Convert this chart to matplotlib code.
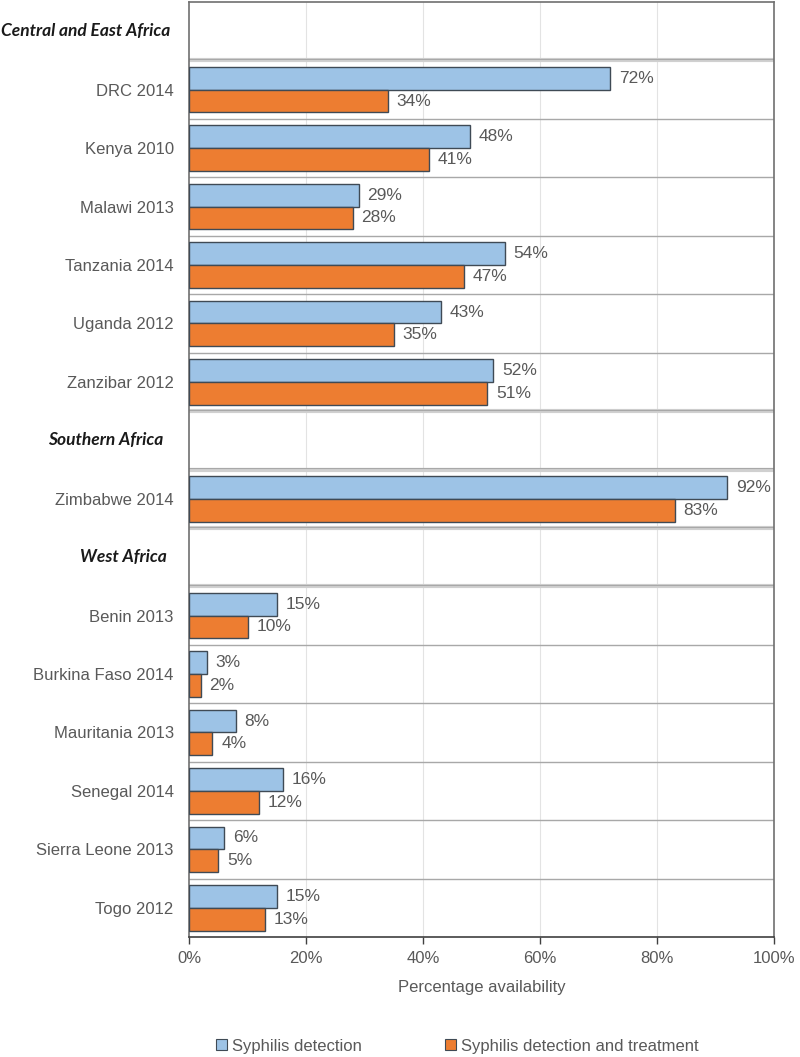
import matplotlib
matplotlib.use("Agg")
import matplotlib.pyplot as plt
from matplotlib.patches import Patch
from matplotlib.transforms import blended_transform_factory

# ---- data ----
rows = ["Central and East Africa", "DRC 2014", "Kenya 2010", "Malawi 2013", "Tanzania 2014",
        "Uganda 2012", "Zanzibar 2012", "Southern Africa", "Zimbabwe 2014", "West Africa",
        "Benin 2013", "Burkina Faso 2014", "Mauritania 2013", "Senegal 2014",
        "Sierra Leone 2013", "Togo 2012"]
headings = ["Central and East Africa", "Southern Africa", "West Africa"]
countries = ["DRC 2014", "Kenya 2010", "Malawi 2013", "Tanzania 2014", "Uganda 2012",
             "Zanzibar 2012", "Zimbabwe 2014", "Benin 2013", "Burkina Faso 2014",
             "Mauritania 2013", "Senegal 2014", "Sierra Leone 2013", "Togo 2012"]
detection = [72, 48, 29, 54, 43, 52, 92, 15, 3, 8, 16, 6, 15]
detection_treatment = [34, 41, 28, 47, 35, 51, 83, 10, 2, 4, 12, 5, 13]
xticks = [0, 20, 40, 60, 80, 100]
series_names = ["Syphilis detection", "Syphilis detection and treatment"]

BLUE = "#9DC3E6"
ORANGE = "#ED7D31"
EDGE = "#3F4A55"
TXT = "#595959"

plt.rcParams['font.family'] = ['Liberation Sans', 'DejaVu Sans']

fig = plt.figure(figsize=(8, 10.57), dpi=100)
ax = fig.add_axes([189/800, 1-937/1057, (774-189)/800, (937-2)/1057])

ypos = {name: i for i, name in enumerate(rows)}
h = 0.39
for c, d, t in zip(countries, detection, detection_treatment):
    y = ypos[c]
    ax.barh(y - h/2, d, height=h, color=BLUE, edgecolor=EDGE, linewidth=1.0, zorder=3)
    ax.barh(y + h/2, t, height=h, color=ORANGE, edgecolor=EDGE, linewidth=1.0, zorder=3)
    ax.text(d + 1.5, y - h/2, f"{d}%", va="center", ha="left", fontsize=12.5, color=TXT)
    ax.text(t + 1.5, y + h/2, f"{t}%", va="center", ha="left", fontsize=12.5, color=TXT)

ax.set_ylim(len(rows) - 0.5, -0.5)
ax.set_xlim(0, 100)
ax.set_yticks([ypos[c] for c in countries])
ax.set_yticklabels(countries, fontsize=12, color=TXT)
ax.tick_params(axis="y", length=0, pad=11)
ax.set_xticks(xticks)
ax.set_xticklabels([f"{v}%" for v in xticks], fontsize=12, color=TXT)
ax.tick_params(axis="x", length=5, width=1, color="#404040", pad=5, direction="out")
ax.set_xlabel("Percentage availability", fontsize=12, color=TXT, labelpad=10)

# grid
for v in xticks[1:-1]:
    ax.axvline(v, color="#E3E3E3", linewidth=0.8, zorder=0)

# separators
head_idx = [ypos[hd] for hd in headings]
for i in range(len(rows) - 1):
    b = i + 0.5
    thick = (i in head_idx) or (i + 1 in head_idx)
    if thick:
        ax.axhline(b, color="#D0D0D0", linewidth=3.0, zorder=1)
        ax.axhline(b - 0.02, color="#A8A8A8", linewidth=0.8, zorder=1)
    else:
        ax.axhline(b, color="#A8A8A8", linewidth=1.0, zorder=1)

for s in ax.spines.values():
    s.set_color("#707070")
    s.set_linewidth(1.2)
ax.spines["bottom"].set_color("#404040")

# headings
trans = blended_transform_factory(fig.transFigure, ax.transData)
for hd, xr in zip(headings, [170/800, 163/800, 167/800]):
    ax.text(xr, ypos[hd], hd, transform=trans, ha="right", va="center",
            fontsize=12.5, fontweight="bold", fontstyle="italic",
            family=["Lato", "DejaVu Sans"], color="#1A1A1A")

handles = [Patch(facecolor=BLUE, edgecolor=EDGE, linewidth=0.8),
           Patch(facecolor=ORANGE, edgecolor=EDGE, linewidth=0.8)]
leg = fig.legend(handles, series_names, loc="lower center", bbox_to_anchor=(0.572, -0.011),
                 ncol=2, frameon=False, fontsize=12, handlelength=0.65, handleheight=0.65,
                 handletextpad=0.3, columnspacing=5.0)
for t in leg.get_texts():
    t.set_color(TXT)

fig.savefig("out.png", dpi=100, facecolor="white")
